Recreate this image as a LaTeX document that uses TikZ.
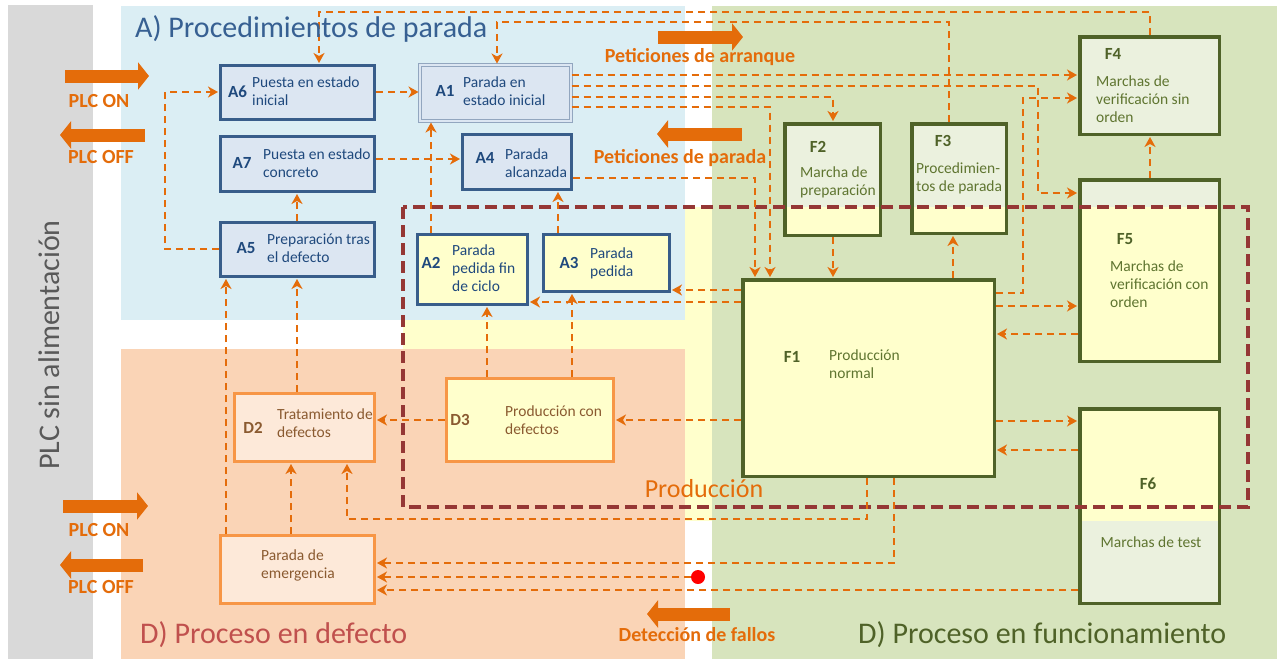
\documentclass[tikz,border=0pt]{standalone}
\usepackage{fontspec}
\setmainfont{Carlito}
\usetikzlibrary{arrows.meta}

\definecolor{linkorange}{HTML}{E46C0A}
\definecolor{zonegray}{HTML}{D9D9D9}
\definecolor{zoneblue}{HTML}{DBEEF4}
\definecolor{zonegreen}{HTML}{D7E4BD}
\definecolor{zonesalmon}{HTML}{FAD4B6}
\definecolor{zoneyellow}{HTML}{FFFFCC}
\definecolor{acolborder}{HTML}{385D8A}
\definecolor{acolfill}{HTML}{DCE6F2}
\definecolor{acol}{HTML}{1F497D}
\definecolor{fcolborder}{HTML}{4F6228}
\definecolor{fcolfill}{HTML}{EBF1DE}
\definecolor{fcol}{HTML}{5F7530}
\definecolor{dcolborder}{HTML}{F79646}
\definecolor{dcolfill}{HTML}{FDE9D9}
\definecolor{dcol}{HTML}{8A5A30}
\definecolor{prodred}{HTML}{953735}
\definecolor{titleblue}{HTML}{376092}
\definecolor{titlered}{HTML}{C0504D}
\definecolor{titlegreen}{HTML}{4F6228}
\definecolor{titlegray}{HTML}{595959}

\begin{document}
\begin{tikzpicture}[x=1pt, y=-1pt,
	link/.style={draw=linkorange, line width=1.8pt, dash pattern=on 7pt off 5pt, shorten >=1pt, -{Stealth[length=10pt, width=11pt, inset=3pt]}},
	bigarrow/.style={draw=linkorange, line width=13pt, -{Triangle[length=11pt, width=27pt]}},
	abox/.style={rectangle, draw=acolborder, fill=acolfill, line width=3pt},
	fbox/.style={rectangle, draw=fcolborder, fill=fcolfill, line width=3.5pt},
	dbox/.style={rectangle, draw=dcolborder, fill=dcolfill, line width=3pt},
	yellowbelow/.style={path picture={\fill[zoneyellow] (path picture bounding box.south west) rectangle ([yshift=#1]path picture bounding box.south east);}},
	yellowabove/.style={path picture={\fill[zoneyellow] (path picture bounding box.north west) rectangle ([yshift=-#1]path picture bounding box.north east);}},
	boxcode/.style={font=\fontsize{17}{20}\selectfont\bfseries, text=#1, inner sep=0pt},
	desc/.style={font=\fontsize{15.5}{18}\selectfont, align=left, anchor=west, text=#1, inner sep=0pt},
	reqlabel/.style={font=\fontsize{20}{23}\selectfont\bfseries, text=linkorange, inner sep=0pt},
	zonetitle/.style={font=\fontsize{30}{34}\selectfont, anchor=base west, inner sep=0pt}]
	\useasboundingbox (0,0) rectangle (1281,659);
	\fill[white] (0,0) rectangle (1281,659);
	\fill[zonegray] (8,5) rectangle (93,659);
	\fill[zoneyellow] (403,207) rectangle (1250,521);
	\fill[zoneblue] (121,6) rectangle (685,320);
	\fill[zonesalmon] (121,349) rectangle (685,659);
	\fill[zonegreen] (712,6) rectangle (1277,659);

	\node (A6) at (297.5, 92.5)	[abox, minimum width=154pt, minimum height=54pt]	{};
	\node (A1) at (495.5, 93)	[abox, draw=acolborder!55, double=acolfill, double distance=2pt, line width=1pt, minimum width=151pt, minimum height=56pt]	{};
	\node (A7) at (297.5, 164)	[abox, minimum width=154pt, minimum height=55pt]	{};
	\node (A4) at (517, 162)	[abox, minimum width=109pt, minimum height=55pt]	{};
	\node (A5) at (297.5, 249.5)	[abox, minimum width=154pt, minimum height=54pt]	{};
	\node (A2) at (472.5, 269.5)	[abox, fill=zoneyellow, minimum width=110pt, minimum height=70pt]	{};
	\node (A3) at (606.5, 263)	[abox, fill=zoneyellow, minimum width=126pt, minimum height=57pt]	{};
	\node (F2) at (832.5, 179.5)	[fbox, yellowbelow=28.25pt, minimum width=95.5pt, minimum height=111.5pt]	{};
	\node (F3) at (959, 178.5)	[fbox, yellowbelow=26.25pt, minimum width=94.5pt, minimum height=109.5pt]	{};
	\node (F4) at (1149.5, 85.5)	[fbox, minimum width=139.5pt, minimum height=97.5pt]	{};
	\node (F5) at (1149.5, 270.5)	[fbox, yellowbelow=154.25pt, minimum width=139.5pt, minimum height=181.5pt]	{};
	\node (F1) at (868.5, 378)	[fbox, fill=zoneyellow, minimum width=251.5pt, minimum height=196.5pt]	{};
	\node (F6) at (1149.5, 506)	[fbox, yellowabove=112.25pt, minimum width=139.5pt, minimum height=194.5pt]	{};
	\node (D2) at (304.5, 427.5)	[dbox, minimum width=140pt, minimum height=68pt]	{};
	\node (D3) at (530, 420)	[dbox, fill=zoneyellow, minimum width=167pt, minimum height=83pt]	{};
	\node (D1) at (297.5, 569.5)	[dbox, minimum width=154pt, minimum height=68pt]	{};
	\node (fallo) at (698, 577)	[circle, fill=red, minimum size=14pt, inner sep=0pt]	{};

	\draw[prodred, line width=4pt, dash pattern=on 12pt off 6pt] (403,207) rectangle (1248,507);

	\draw[link] (F4.north -| 1150,0) |- (319,12) -- (A6.north -| 319,0);
	\draw[link] (F3.north -| 949,0) |- (497,22) -- (A1.north -| 497,0);
	\draw[link] (A1.east |- 0,75) -- (F4.west |- 0,75);
	\draw[link] (A1.east |- 0,86) -| (1038,193) -- (F5.west |- 0,193);
	\draw[link] (A1.east |- 0,97) -| (F2.north -| 833,0);
	\draw[link] (A1.east |- 0,107) -| (F1.north -| 770,0);
	\draw[link] (A4.east |- 0,178) -| (F1.north -| 755,0);
	\draw[link] (F2.south -| 833,0) -- (F1.north -| 833,0);
	\draw[link] (F1.north -| 953,0) -- (F3.south -| 953,0);
	\draw[link] (F1.east |- 0,293) -| (1023,98) -- (F4.west |- 0,98);
	\draw[link] (F1.east |- 0,306) -- (F5.west |- 0,306);
	\draw[link] (F5.west |- 0,334) -- (F1.east |- 0,334);
	\draw[link] (F1.east |- 0,421) -- (F6.west |- 0,421);
	\draw[link] (F6.west |- 0,450) -- (F1.east |- 0,450);
	\draw[link] (F5.north -| 1150,0) -- (F4.south -| 1150,0);
	\draw[link] (F1.west |- 0,290) -- (A3.east |- 0,290);
	\draw[link] (F1.west |- 0,302) -- (A2.east |- 0,302);
	\draw[link] (A6.east |- 0,92) -- (A1.west |- 0,92);
	\draw[link] (A5.west |- 0,249) -| (165,92) -- (A6.west |- 0,92);
	\draw[link] (A5.north -| 297,0) -- (A7.south -| 297,0);
	\draw[link] (A7.east |- 0,159) -- (A4.west |- 0,159);
	\draw[link] (A2.north -| 431,0) -- (A1.south -| 431,0);
	\draw[link] (A3.north -| 558,0) -- (A4.south -| 558,0);
	\draw[link] (D3.north -| 487,0) -- (A2.south -| 487,0);
	\draw[link] (D3.north -| 572,0) -- (A3.south -| 572,0);
	\draw[link] (F1.west |- 0,420) -- (D3.east |- 0,420);
	\draw[link] (D3.west |- 0,420) -- (D2.east |- 0,420);
	\draw[link] (D2.north -| 297,0) -- (A5.south -| 297,0);
	\draw[link] (D1.north -| 226,0) -- (A5.south -| 226,0);
	\draw[link] (D1.north -| 291,0) -- (D2.south -| 291,0);
	\draw[link] (F1.south -| 867,0) |- (347,519) -- (D2.south -| 347,0);
	\draw[link] (F1.south -| 894,0) |- (D1.east |- 0,563);
	\draw[link] (fallo) -- (D1.east |- 0,577);
	\draw[link] (F6.west |- 0,590) -- (D1.east |- 0,590);

	\draw[bigarrow] (65,76) -- (149,76);
	\draw[bigarrow] (145,135) -- (60,135);
	\draw[bigarrow] (63,506) -- (148,506);
	\draw[bigarrow] (143,565) -- (60,565);
	\draw[bigarrow] (658,37) -- (743,37);
	\draw[bigarrow] (742,134) -- (657,134);
	\draw[bigarrow] (730,614) -- (647,614);

	\node (on1) at (99,101)	[reqlabel]	{PLC ON};
	\node (off1) at (101,157)	[reqlabel]	{PLC OFF};
	\node (on2) at (99,530)	[reqlabel]	{PLC ON};
	\node (off2) at (101,587)	[reqlabel]	{PLC OFF};
	\node (arranque) at (700,57)	[reqlabel]	{Peticiones de arranque};
	\node (parada) at (680,158)	[reqlabel]	{Peticiones de parada};
	\node (fallos) at (697,635)	[reqlabel]	{Detección de fallos};

	\node (zoneA) at (135,37)	[zonetitle, text=titleblue]	{A) Procedimientos de parada};
	\node (zoneD) at (140,643)	[zonetitle, text=titlered]	{D) Proceso en defecto};
	\node (zoneF) at (858,643)	[zonetitle, text=titlegreen]	{D) Proceso en funcionamiento};
	\node (zoneP) at (49,345)	[font=\fontsize{30}{34}\selectfont, rotate=90, text=titlegray]	{PLC sin alimentación};
	\node (prod) at (704,497)	[font=\fontsize{26}{30}\selectfont, anchor=base, text=linkorange, inner sep=0pt]	{Producción};

	\node (A6c) at (237.5,92)	[boxcode=acol]	{A6};
	\node (A6d) at (252,91)	[desc=acol]	{Puesta en estado\\inicial};
	\node (A1c) at (445,91)	[boxcode=acol]	{A1};
	\node (A1d) at (463,91)	[desc=acol]	{Parada en\\estado inicial};
	\node (A7c) at (242,163)	[boxcode=acol]	{A7};
	\node (A7d) at (263,163)	[desc=acol]	{Puesta en estado\\concreto};
	\node (A4c) at (485,158)	[boxcode=acol]	{A4};
	\node (A4d) at (505,163)	[desc=acol]	{Parada\\alcanzada};
	\node (A5c) at (246,248)	[boxcode=acol]	{A5};
	\node (A5d) at (267,248)	[desc=acol]	{Preparación tras\\el defecto};
	\node (A2c) at (431,263)	[boxcode=acol]	{A2};
	\node (A2d) at (452,268)	[desc=acol]	{Parada\\pedida fin\\de ciclo};
	\node (A3c) at (569,263)	[boxcode=acol]	{A3};
	\node (A3d) at (590,263)	[desc=acol]	{Parada\\pedida};
	\node (F2c) at (818,147)	[boxcode=fcolborder]	{F2};
	\node (F2d) at (800,182)	[desc=fcol]	{Marcha de\\preparación};
	\node (F3c) at (943,141)	[boxcode=fcolborder]	{F3};
	\node (F3d) at (916,178)	[desc=fcol]	{Procedimien-\\tos de parada};
	\node (F4c) at (1113,54)	[boxcode=fcolborder]	{F4};
	\node (F4d) at (1096,99)	[desc=fcol]	{Marchas de\\verificación sin\\orden};
	\node (F5c) at (1125,239)	[boxcode=fcolborder]	{F5};
	\node (F5d) at (1110,284)	[desc=fcol]	{Marchas de\\verificación con\\orden};
	\node (F1c) at (792,357)	[boxcode=fcolborder]	{F1};
	\node (F1d) at (829,364)	[desc=fcol]	{Producción\\normal};
	\node (F6c) at (1148,484)	[boxcode=fcolborder]	{F6};
	\node (F6d) at (1151,542)	[desc=fcol, anchor=center]	{Marchas de test};
	\node (D2c) at (253,428)	[boxcode=dcol]	{D2};
	\node (D2d) at (277,423)	[desc=dcol]	{Tratamiento de\\defectos};
	\node (D3c) at (460,420)	[boxcode=dcol]	{D3};
	\node (D3d) at (505,420)	[desc=dcol]	{Producción con\\defectos};
	\node (D1d) at (261,565)	[desc=dcol]	{Parada de\\emergencia};
\end{tikzpicture}
\end{document}
